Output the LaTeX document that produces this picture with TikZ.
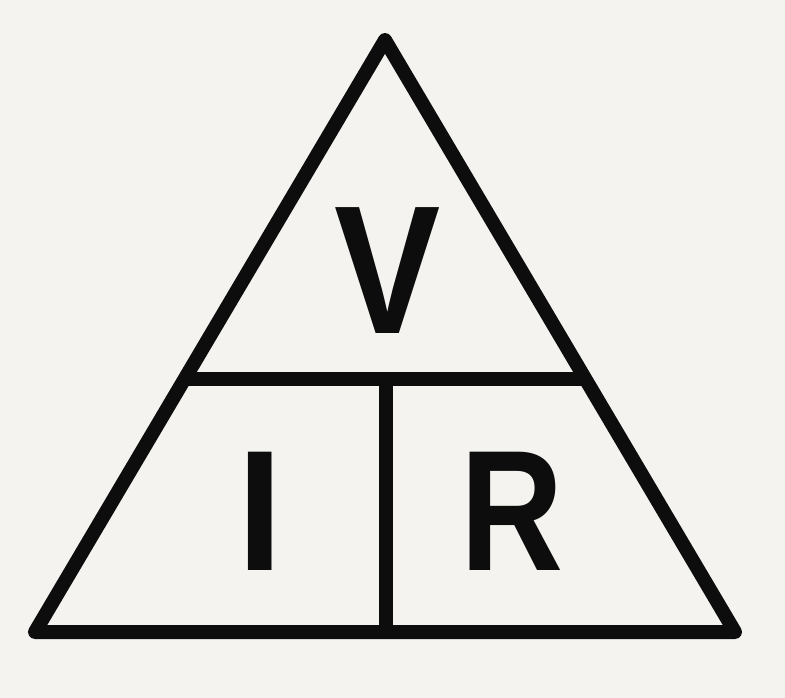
\documentclass[tikz,border=0pt]{standalone}
\usepackage{fontspec}
\setmainfont{Liberation Sans}
\definecolor{bg}{HTML}{F4F3EF}
\definecolor{ink}{HTML}{0D0D0D}
\begin{document}
\begin{tikzpicture}[x=1pt,y=-1pt,
  edge/.style={draw=ink,line width=14pt,line join=round,line cap=round},
  letter/.style={inner sep=0pt,anchor=base,text=ink,font=\fontsize{172}{172}\selectfont\bfseries}]
\fill[bg] (0,0) rectangle (785,698);
\useasboundingbox (0,0) rectangle (785,698);
\coordinate (top) at (385,40);
\coordinate (bl) at (35,632);
\coordinate (br) at (735,632);
\coordinate (ml) at (184.6,379);
\coordinate (mr) at (585.4,379);
\coordinate (mm) at (385.5,379);
\coordinate (bm) at (385.5,632);
\draw[edge] (top) -- (bl) -- (br) -- cycle;
\draw[edge,line cap=butt] (ml) -- (mr);
\draw[edge,line cap=butt] (mm) -- (bm);
\node[letter,font=\fontsize{183}{183}\selectfont\bfseries] (v) at (387.5,333) {\scalebox{0.87}[1]{V}};
\node[letter] (i) at (260,570) {\scalebox{0.95}[1]{I}};
\node[letter] (r) at (512,570) {\scalebox{0.83}[1]{R}};
\end{tikzpicture}
\end{document}
